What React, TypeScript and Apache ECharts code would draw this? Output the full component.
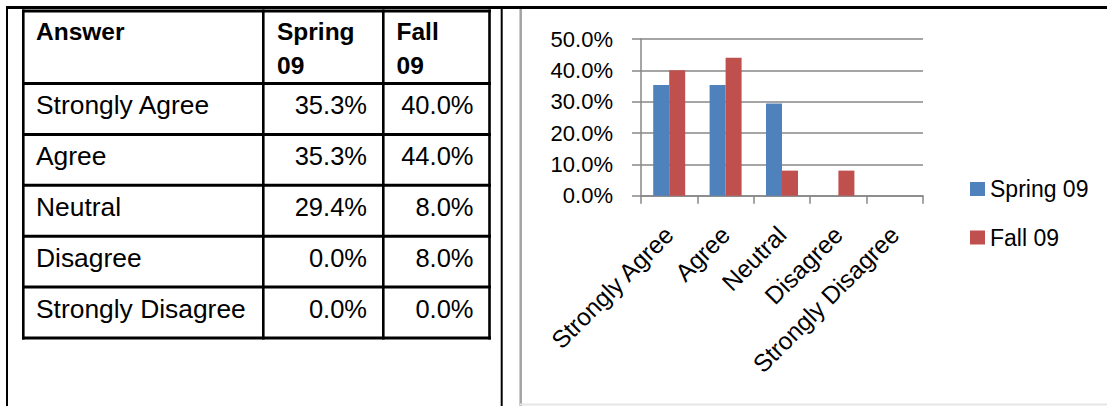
import React, { useEffect, useRef } from "react";
import * as echarts from "echarts";

// Survey answers and the share of respondents per term (percent)
const categories = ["Strongly Agree", "Agree", "Neutral", "Disagree", "Strongly Disagree"];
const spring09 = [35.3, 35.3, 29.4, 0.0, 0.0];
const fall09 = [40.0, 44.0, 8.0, 8.0, 0.0];
const seriesNames = ["Spring 09", "Fall 09"];
const headerFirst = "Answer";
const headerSpring = ["Spring", "09"];
const headerFall = ["Fall", "09"];

const FONT = '"Liberation Sans", Arial, sans-serif';
const BLUE = "#4F81BD";
const RED = "#C0504D";
const GRID_GRAY = "#878787";

const pct = (v: number) => `${v.toFixed(1)}%`;

// Table layout
const colX = [23.3, 263.3, 383.3, 489.5];
const tableTop = 11;
const headerBottom = 83.5;
const rowH = 50.9;

function buildTable(): any[] {
  const els: any[] = [];
  const line = (x1: number, y1: number, x2: number, y2: number, w: number, color = "#000") => ({
    type: "line",
    silent: true,
    shape: { x1, y1, x2, y2 },
    style: { stroke: color, lineWidth: w },
  });
  const text = (t: string, x: number, y: number, opts: any = {}) => ({
    type: "text",
    silent: true,
    style: {
      text: t,
      x,
      y,
      fill: "#000",
      fontFamily: FONT,
      fontSize: 26.4,
      align: "left",
      verticalAlign: "middle",
      ...opts,
    },
  });

  // page frame
  els.push(line(6, 7.5, 1107, 7.5, 3));
  els.push(line(7, 6, 7, 406, 2));
  els.push(line(501.7, 6, 501.7, 406, 2));
  // chart frame
  els.push(line(520.7, 9, 520.7, 406, 2.5, "#a3a3a3"));
  els.push(line(520, 404.5, 1107, 404.5, 2, "#e6e6e6"));

  const bottom = headerBottom + rowH * categories.length;
  // table horizontal rules
  els.push(line(colX[0] - 1.3, tableTop, colX[3] + 1.5, tableTop, 3));
  for (let i = 0; i <= categories.length; i++) {
    const y = headerBottom + rowH * i;
    els.push(line(colX[0] - 1.3, y, colX[3] + 1.5, y, 3));
  }
  // table vertical rules
  colX.forEach((x) => els.push(line(x, tableTop - 1.5, x, bottom + 1.5, 2.6)));

  // header
  const bold = { fontWeight: "bold", fontSize: 24.5 };
  els.push(text(headerFirst, 36, 31.5, bold));
  els.push(text(headerSpring[0], 277, 31.5, bold));
  els.push(text(headerSpring[1], 277, 65.5, bold));
  els.push(text(headerFall[0], 396.5, 31.5, bold));
  els.push(text(headerFall[1], 396.5, 65.5, bold));

  // rows
  categories.forEach((c, i) => {
    const y = headerBottom + rowH * i + 21.5;
    els.push(text(c, 36, y));
    els.push(text(pct(spring09[i]), 367, y, { align: "right", fontSize: 25.5 }));
    els.push(text(pct(fall09[i]), 473.5, y, { align: "right", fontSize: 25.5 }));
  });
  return els;
}

export default function App() {
  const ref = useRef<HTMLDivElement>(null);

  useEffect(() => {
    if (!ref.current) return;
    const chart = echarts.init(ref.current, undefined, { renderer: "svg" });
    chart.setOption({
      animation: false,
      backgroundColor: "#fff",
      textStyle: { fontFamily: FONT },
      grid: { left: 641, top: 39, width: 282, height: 156.7, containLabel: false },
      legend: {
        orient: "vertical",
        left: 965,
        top: 172,
        itemWidth: 15,
        itemHeight: 14,
        itemGap: 24.5,
        icon: "rect",
        data: seriesNames,
        textStyle: { fontSize: 23, lineHeight: 24, color: "#000", fontFamily: FONT },
      },
      xAxis: {
        type: "category",
        data: categories,
        axisLine: { lineStyle: { color: GRID_GRAY, width: 1.5 } },
        axisTick: { show: true, length: 8, alignWithLabel: false, lineStyle: { color: GRID_GRAY, width: 1.5 } },
        axisLabel: {
          interval: 0,
          rotate: 45,
          align: "right",
          verticalAlign: "middle",
          margin: 35,
          fontSize: 24.5,
          color: "#000",
          fontFamily: FONT,
        },
      },
      yAxis: {
        type: "value",
        min: 0,
        max: 50,
        interval: 10,
        axisLine: { show: true, lineStyle: { color: GRID_GRAY, width: 1.5 } },
        axisTick: { show: true, length: 9, lineStyle: { color: GRID_GRAY, width: 1.5 } },
        splitLine: { show: true, lineStyle: { color: GRID_GRAY, width: 1.5 } },
        axisLabel: {
          formatter: (v: number) => pct(v),
          margin: 28,
          fontSize: 22,
          color: "#000",
          fontFamily: FONT,
        },
      },
      series: [
        { name: seriesNames[0], type: "bar", data: spring09, barWidth: 16, barGap: "0%", itemStyle: { color: BLUE } },
        { name: seriesNames[1], type: "bar", data: fall09, barWidth: 16, barGap: "0%", itemStyle: { color: RED } },
      ],
      graphic: buildTable(),
    });
    return () => chart.dispose();
  }, []);

  return (
    <div
      ref={ref}
      style={{ position: "fixed", left: 0, top: 0, width: 1107, height: 406, background: "#fff" }}
    />
  );
}
